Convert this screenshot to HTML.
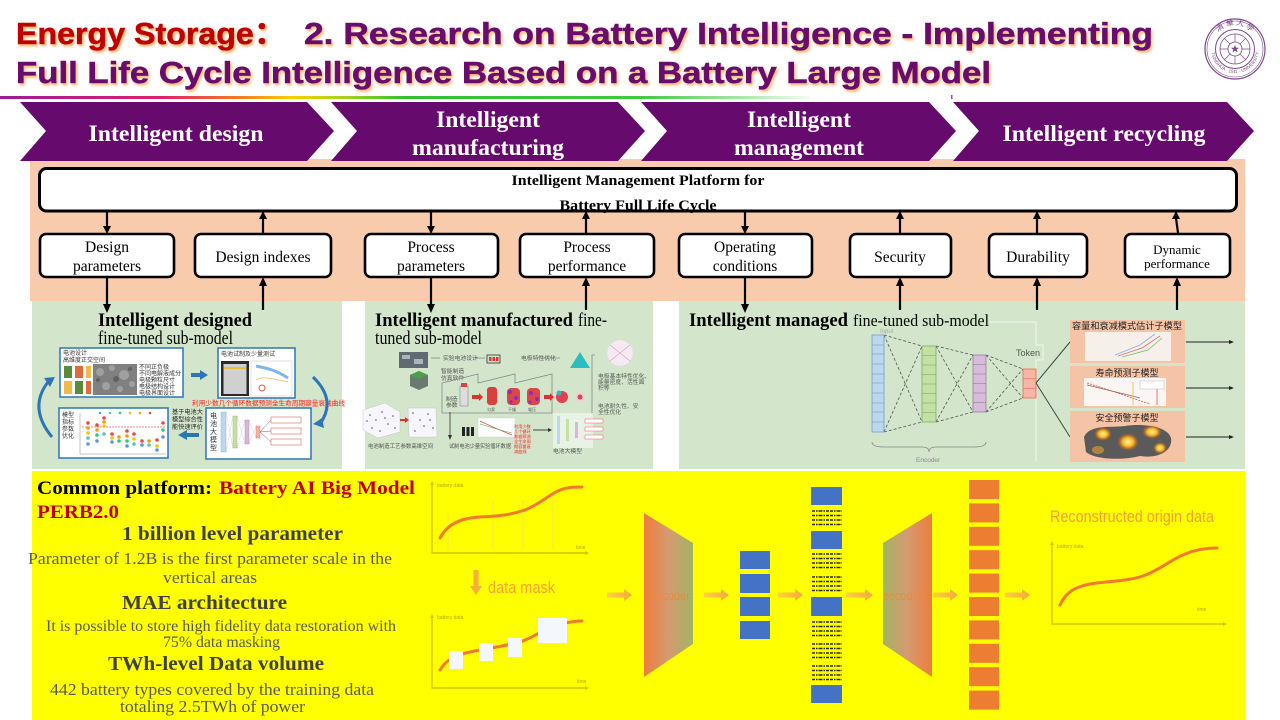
<!DOCTYPE html>
<html><head><meta charset="utf-8">
<style>
html,body{margin:0;padding:0;background:#fff;width:1280px;height:720px;overflow:hidden}
svg{display:block}
.se{font-family:"Liberation Serif","Noto Serif CJK SC",serif}
.sa{font-family:"Liberation Sans","Noto Sans CJK SC",sans-serif}
.cj{font-family:"Noto Sans CJK SC","WenQuanYi Zen Hei",sans-serif}
</style></head><body>
<svg width="1280" height="720" viewBox="0 0 1280 720" xmlns="http://www.w3.org/2000/svg">
<defs>
 <linearGradient id="rain" x1="0" x2="1" y1="0" y2="0">
  <stop offset="0" stop-color="#9b1b9b"/>
  <stop offset="0.2" stop-color="#e0206a"/>
  <stop offset="0.3" stop-color="#f58020"/>
  <stop offset="0.36" stop-color="#f5d000"/>
  <stop offset="0.43" stop-color="#a0d020"/>
  <stop offset="0.5" stop-color="#30c030"/>
  <stop offset="0.79" stop-color="#40c840"/>
  <stop offset="1" stop-color="#f0fbf0"/>
 </linearGradient>
 <linearGradient id="enc" x1="0" x2="1" y1="0" y2="0">
  <stop offset="0" stop-color="#ee7d3c"/>
  <stop offset="0.5" stop-color="#d59a70"/>
  <stop offset="1" stop-color="#a3b465"/>
 </linearGradient>
 <linearGradient id="dec" x1="0" x2="1" y1="0" y2="0">
  <stop offset="0" stop-color="#a3b465"/>
  <stop offset="0.5" stop-color="#d59a70"/>
  <stop offset="1" stop-color="#ee7d3c"/>
 </linearGradient>
 <linearGradient id="arw" x1="0" x2="1" y1="0" y2="0">
  <stop offset="0" stop-color="#fbd43a"/>
  <stop offset="1" stop-color="#f5a83c"/>
 </linearGradient>
 <radialGradient id="fire" cx="0.5" cy="0.5" r="0.5">
  <stop offset="0" stop-color="#fff6a0"/>
  <stop offset="0.5" stop-color="#f7b520"/>
  <stop offset="1" stop-color="#e05010" stop-opacity="0"/>
 </radialGradient>
 <filter id="ts" x="-5%" y="-20%" width="110%" height="150%">
  <feDropShadow dx="1.5" dy="2" stdDeviation="1.2" flood-color="#f59a3a" flood-opacity="0.75"/>
 </filter>
 <path id="lgTop" d="M-24,0 A24,24 0 0,1 24,0"/>
 <path id="lgBot" d="M-24,0 A24,24 0 0,0 24,0"/>
</defs>

<!-- ===== Title ===== -->
<g class="sa" font-weight="bold" font-size="31" filter="url(#ts)" stroke-width="0.6">
 <text x="16" y="44" fill="#C00000" stroke="#C00000" textLength="270" lengthAdjust="spacingAndGlyphs">Energy Storage：</text>
 <text x="304" y="44" fill="#680c6c" stroke="#680c6c" textLength="849" lengthAdjust="spacingAndGlyphs">2. Research on Battery Intelligence - Implementing</text>
 <text x="16" y="83" fill="#680c6c" stroke="#680c6c" textLength="975" lengthAdjust="spacingAndGlyphs">Full Life Cycle Intelligence Based on a Battery Large Model</text>
</g>
<rect x="0" y="96" width="810" height="3" fill="url(#rain)"/>
<rect x="951" y="95" width="1.5" height="4" fill="#b040b0"/>

<!-- Logo -->
<g transform="translate(1235,49)" fill="none" stroke="#7b4b8b">
 <circle r="30" fill="#fff" stroke-width="1.2"/>
 <circle r="28" stroke-width="0.6"/>
 <circle r="19.5" stroke-width="1"/>
 <circle r="15" stroke-width="0.8"/>
 <circle r="7" stroke-width="0.8"/>
 <path d="M0,-4 L1.2,-1.2 L4,-1.2 L1.8,0.6 L2.6,3.4 L0,1.8 L-2.6,3.4 L-1.8,0.6 L-4,-1.2 L-1.2,-1.2 Z" fill="#7b4b8b" stroke="none"/>
 <path d="M-15,0 H-7 M7,0 H15 M0,-15 V-7 M0,7 V15 M-10.6,-10.6 L-5,-5 M10.6,-10.6 L5,-5 M-10.6,10.6 L-5,5 M10.6,10.6 L5,5" stroke-width="0.7"/>
 <text class="cj" font-size="8" fill="#7b4b8b" stroke="none" text-anchor="middle"><textPath href="#lgTop" startOffset="50%">清 華 大 學</textPath></text>
 <text class="sa" font-size="4.5" fill="#7b4b8b" stroke="none" text-anchor="middle"><textPath href="#lgBot" startOffset="50%">TSINGHUA · 1911 · UNIVERSITY</textPath></text>
</g>

<!-- ===== Background regions ===== -->
<rect x="30" y="159" width="1215" height="142" fill="#F8CBAD"/>
<rect x="32" y="301" width="310" height="168" fill="#D3E6CB"/>
<rect x="365" y="301" width="288" height="168" fill="#D3E6CB"/>
<rect x="679" y="301" width="566" height="168" fill="#D3E6CB"/>
<rect x="32" y="471" width="1213" height="249" fill="#FFFF00"/>

<!-- ===== Chevrons ===== -->
<g fill="#660a6e">
 <polygon points="20,102 307,102 334,131 307,161 20,161 46,131"/>
 <polygon points="331,102 618,102 645,131 618,161 331,161 357,131"/>
 <polygon points="641,102 929,102 956,131 929,161 641,161 667,131"/>
 <polygon points="953,102 1227,102 1254,131 1227,161 953,161 979,131"/>
</g>
<g class="se" font-weight="bold" font-size="23" fill="#fff" text-anchor="middle">
 <text x="176" y="141" textLength="175" lengthAdjust="spacingAndGlyphs">Intelligent design</text>
 <text x="488" y="127" textLength="104" lengthAdjust="spacingAndGlyphs">Intelligent</text>
 <text x="488" y="155" textLength="152" lengthAdjust="spacingAndGlyphs">manufacturing</text>
 <text x="799" y="127" textLength="104" lengthAdjust="spacingAndGlyphs">Intelligent</text>
 <text x="799" y="155" textLength="130" lengthAdjust="spacingAndGlyphs">management</text>
 <text x="1104" y="141" textLength="203" lengthAdjust="spacingAndGlyphs">Intelligent recycling</text>
</g>

<!-- ===== Platform ===== -->
<rect x="39.5" y="168.5" width="1197" height="42.5" rx="7" fill="#fff" stroke="#000" stroke-width="3"/>
<g class="se" font-weight="bold" font-size="14.5" fill="#000" text-anchor="middle">
 <text x="638" y="185" textLength="253" lengthAdjust="spacingAndGlyphs">Intelligent Management Platform for</text>
 <text x="638" y="210" textLength="157" lengthAdjust="spacingAndGlyphs">Battery Full Life Cycle</text>
</g>

<!-- Boxes -->
<g fill="#fff" stroke="#000" stroke-width="2.6">
 <rect x="40" y="234" width="134" height="43" rx="6"/>
 <rect x="195" y="234" width="136" height="43" rx="6"/>
 <rect x="365" y="234" width="133" height="43" rx="6"/>
 <rect x="520" y="234" width="134" height="43" rx="6"/>
 <rect x="679" y="234" width="133" height="43" rx="6"/>
 <rect x="850" y="234" width="101" height="43" rx="6"/>
 <rect x="989" y="234" width="98" height="43" rx="6"/>
 <rect x="1125" y="234" width="105" height="43" rx="6"/>
</g>
<g class="se" font-size="15.5" fill="#000" text-anchor="middle">
 <text x="107" y="252">Design</text>
 <text x="107" y="271">parameters</text>
 <text x="263" y="262">Design indexes</text>
 <text x="431" y="252">Process</text>
 <text x="431" y="271">parameters</text>
 <text x="587" y="252">Process</text>
 <text x="587" y="271">performance</text>
 <text x="745" y="252">Operating</text>
 <text x="745" y="271">conditions</text>
 <text x="900" y="262">Security</text>
 <text x="1038" y="262">Durability</text>
 <text x="1177" y="254" font-size="13">Dynamic</text>
 <text x="1177" y="268" font-size="13">performance</text>
</g>

<!-- Arrows platform <-> boxes -->
<g stroke="#000" stroke-width="2.2">
 <line x1="107" y1="212" x2="107" y2="228"/>
 <line x1="263" y1="233" x2="263" y2="218"/>
 <line x1="431" y1="212" x2="431" y2="228"/>
 <line x1="586" y1="233" x2="586" y2="218"/>
 <line x1="745" y1="212" x2="745" y2="228"/>
 <line x1="900" y1="233" x2="900" y2="218"/>
 <line x1="1037" y1="233" x2="1037" y2="218"/>
 <line x1="1178" y1="233" x2="1176" y2="218"/>
 <line x1="107" y1="278" x2="107" y2="306"/>
 <line x1="263" y1="310" x2="263" y2="284"/>
 <line x1="431" y1="278" x2="431" y2="306"/>
 <line x1="586" y1="310" x2="586" y2="284"/>
 <line x1="745" y1="278" x2="745" y2="306"/>
 <line x1="900" y1="310" x2="900" y2="284"/>
 <line x1="1037" y1="310" x2="1037" y2="284"/>
 <line x1="1177" y1="310" x2="1177" y2="284"/>
</g>
<g fill="#000">
 <polygon points="103,226 111,226 107,234"/>
 <polygon points="259,219 267,219 263,211"/>
 <polygon points="427,226 435,226 431,234"/>
 <polygon points="582,219 590,219 586,211"/>
 <polygon points="741,226 749,226 745,234"/>
 <polygon points="896,219 904,219 900,211"/>
 <polygon points="1033,219 1041,219 1037,211"/>
 <polygon points="1172,219 1180,219 1176,211"/>
 <polygon points="103,304 111,304 107,313"/>
 <polygon points="259,286 267,286 263,277"/>
 <polygon points="427,304 435,304 431,313"/>
 <polygon points="582,286 590,286 586,277"/>
 <polygon points="741,304 749,304 745,313"/>
 <polygon points="896,286 904,286 900,277"/>
 <polygon points="1033,286 1041,286 1037,277"/>
 <polygon points="1173,286 1181,286 1177,277"/>
</g>

<!-- ===== Panel 1 ===== -->
<g class="se" font-size="18.5" fill="#000">
 <text x="98" y="326" font-weight="bold" textLength="154" lengthAdjust="spacingAndGlyphs">Intelligent designed</text>
 <text x="98" y="344" textLength="135" lengthAdjust="spacingAndGlyphs">fine-tuned sub-model</text>
</g>
<rect x="60" y="348" width="123" height="49" fill="#fff" stroke="#2e75b6" stroke-width="1.5"/>
<g class="cj" font-size="6" fill="#333">
 <text x="63" y="355">电池设计</text>
 <text x="63" y="362">高维度正交空间</text>
 <text x="139" y="369">不同正负极</text>
 <text x="139" y="375.5">不同电解液成分</text>
 <text x="139" y="382">电极颗粒尺寸</text>
 <text x="139" y="388.5">电极结构设计</text>
 <text x="139" y="395">电极界面设计</text>
</g>
<rect x="64" y="366" width="8" height="12" fill="#5a8a3a"/>
<rect x="75" y="366" width="8" height="12" fill="#e06a3a"/>
<rect x="86" y="366" width="5" height="12" fill="#f2b84a"/>
<rect x="64" y="381" width="8" height="13" fill="#f2b84a"/>
<rect x="75" y="381" width="8" height="13" fill="#5a8a3a"/>
<rect x="86" y="381" width="5" height="13" fill="#e06a3a"/>
<rect x="93" y="364" width="44" height="31" fill="#808080"/>
<g fill="#a8a8a8" opacity="0.8">
 <circle cx="100" cy="372" r="4"/><circle cx="112" cy="368" r="3"/><circle cx="124" cy="375" r="5"/><circle cx="106" cy="386" r="4"/><circle cx="120" cy="389" r="3"/><circle cx="132" cy="384" r="3"/>
</g>
<g fill="#555" opacity="0.7">
 <circle cx="116" cy="379" r="3"/><circle cx="98" cy="380" r="2"/><circle cx="130" cy="369" r="2"/>
</g>
<rect x="218" y="348" width="77" height="50" fill="#fff" stroke="#2e75b6" stroke-width="1.5"/>
<text class="cj" x="221" y="356" font-size="6" fill="#333">电池试制及少量测试</text>
<rect x="221" y="361" width="28" height="35" fill="#2a2a2a"/>
<rect x="223.5" y="364" width="23" height="30" fill="#d0d0d0"/>
<rect x="223.5" y="367" width="23" height="2" fill="#e8c040"/>
<rect x="251" y="361" width="41" height="35" fill="#fff" stroke="#ccc" stroke-width="0.6"/>
<path d="M256,366 C266,368 276,370 288,378" stroke="#7fb6e6" stroke-width="3" fill="none"/>
<path d="M256,380 C262,376 270,378 288,382" stroke="#f0c060" stroke-width="0.8" fill="none"/>
<circle cx="262" cy="388" r="3" fill="none" stroke="#e05050" stroke-width="1"/>
<text class="cj" x="192" y="405.5" font-size="6.8" fill="#ff2020" textLength="153" lengthAdjust="spacingAndGlyphs">利用少数几个循环数据预测全生命周期容量衰减曲线</text>
<rect x="59" y="408" width="109" height="50" fill="#fff" stroke="#2e75b6" stroke-width="1.5"/>
<g class="cj" font-size="6" fill="#333">
 <text x="62" y="417">模型</text><text x="62" y="424">指标</text><text x="62" y="431">参数</text><text x="62" y="438">优化</text>
</g>
<line x1="80" y1="413" x2="80" y2="454" stroke="#888" stroke-width="0.5"/>
<line x1="80" y1="454" x2="166" y2="454" stroke="#888" stroke-width="0.5"/>
<line x1="82" y1="427" x2="166" y2="427" stroke="#f08080" stroke-width="0.9" stroke-dasharray="2 1"/>
<g>
 <circle cx="100" cy="413" r="1.3" fill="#5b9bd5"/><circle cx="110" cy="413" r="1.3" fill="#5dc0c0"/><circle cx="120" cy="413" r="1.3" fill="#2ecc71"/><circle cx="130" cy="413" r="1.3" fill="#f1c40f"/><circle cx="140" cy="413" r="1.3" fill="#f39c12"/><circle cx="150" cy="413" r="1.3" fill="#e74c3c"/>
 <circle cx="88" cy="423" r="1.8" fill="#e74c3c"/><circle cx="88" cy="428" r="1.8" fill="#f39c12"/><circle cx="88" cy="433" r="1.8" fill="#f1c40f"/><circle cx="88" cy="438" r="1.8" fill="#5dc0c0"/><circle cx="88" cy="444" r="1.8" fill="#5b9bd5"/>
 <circle cx="97" cy="425" r="1.8" fill="#e74c3c"/><circle cx="97" cy="430" r="1.8" fill="#f39c12"/><circle cx="97" cy="435" r="1.8" fill="#2ecc71"/><circle cx="97" cy="441" r="1.8" fill="#5b9bd5"/>
 <circle cx="104" cy="418" r="1.8" fill="#e74c3c"/><circle cx="104" cy="422" r="1.8" fill="#f39c12"/><circle cx="104" cy="426" r="1.8" fill="#f1c40f"/><circle cx="104" cy="434" r="1.8" fill="#5dc0c0"/>
 <circle cx="112" cy="434" r="1.8" fill="#e74c3c"/><circle cx="112" cy="438" r="1.8" fill="#f1c40f"/><circle cx="112" cy="442" r="1.8" fill="#5b9bd5"/>
 <circle cx="119" cy="437" r="1.8" fill="#f39c12"/><circle cx="119" cy="441" r="1.8" fill="#2ecc71"/>
 <circle cx="127" cy="431" r="1.8" fill="#e74c3c"/><circle cx="127" cy="436" r="1.8" fill="#f39c12"/><circle cx="127" cy="441" r="1.8" fill="#2ecc71"/><circle cx="127" cy="446" r="1.8" fill="#5b9bd5"/>
 <circle cx="134" cy="434" r="1.8" fill="#e74c3c"/><circle cx="134" cy="439" r="1.8" fill="#f1c40f"/><circle cx="134" cy="444" r="1.8" fill="#5dc0c0"/>
 <circle cx="142" cy="441" r="1.8" fill="#e74c3c"/><circle cx="142" cy="445" r="1.8" fill="#5b9bd5"/>
 <circle cx="149" cy="441" r="1.8" fill="#f39c12"/><circle cx="149" cy="445" r="1.8" fill="#5dc0c0"/>
 <circle cx="157" cy="440" r="1.8" fill="#e74c3c"/><circle cx="157" cy="446" r="1.8" fill="#f1c40f"/><circle cx="157" cy="450" r="1.8" fill="#5b9bd5"/>
 <circle cx="163" cy="423" r="1.8" fill="#e74c3c"/><circle cx="163" cy="430" r="1.8" fill="#2ecc71"/><circle cx="163" cy="437" r="1.8" fill="#5b9bd5"/>
</g>
<g class="cj" font-size="6.2" fill="#222">
 <text x="172" y="414">基于电池大</text><text x="172" y="421.5">模型综合性</text><text x="172" y="429">能快速评价</text>
</g>
<polygon points="191,373 200,373 200,370 208,375 200,380 200,377 191,377" fill="#2e75b6"/>
<polygon points="199,433 187,433 187,430 178,435 187,440 187,437 199,437" fill="#2e75b6"/>
<path d="M52,437 Q28,408 48,382" stroke="#2e75b6" stroke-width="3" fill="none"/>
<polygon points="44,378 55,377 50,387" fill="#2e75b6"/>
<path d="M313,377 Q337,400 320,424" stroke="#2e75b6" stroke-width="3" fill="none"/>
<polygon points="313,424 324,428 322,418" fill="#2e75b6"/>
<rect x="206" y="408" width="105" height="51" fill="#fff" stroke="#2e75b6" stroke-width="1.5"/>
<g class="cj" font-size="7" fill="#333">
 <text x="210" y="418">电</text><text x="210" y="426">池</text><text x="210" y="434">大</text><text x="210" y="442">模</text><text x="210" y="450">型</text>
</g>
<rect x="221" y="412" width="5" height="40" fill="#bdd7ee" stroke="#7fa8d0" stroke-width="0.4"/>
<rect x="233" y="416" width="4" height="32" fill="#c5e0a5" stroke="#8ab060" stroke-width="0.4"/>
<rect x="245" y="420" width="4" height="24" fill="#d5b8d8" stroke="#a080a8" stroke-width="0.4"/>
<rect x="256" y="426" width="4" height="12" fill="#f8b0a0" stroke="#e07070" stroke-width="0.4"/>
<g stroke="#999" stroke-width="0.4" stroke-dasharray="1 1">
 <line x1="226" y1="412" x2="233" y2="448"/><line x1="226" y1="452" x2="233" y2="416"/>
 <line x1="237" y1="416" x2="245" y2="444"/><line x1="237" y1="448" x2="245" y2="420"/>
 <line x1="249" y1="420" x2="256" y2="438"/><line x1="249" y1="444" x2="256" y2="426"/>
</g>
<g stroke="#666" stroke-width="0.5"><line x1="260" y1="432" x2="271" y2="420"/><line x1="260" y1="432" x2="271" y2="431"/><line x1="260" y1="432" x2="271" y2="442"/></g>
<g fill="#fff" stroke="#e06060" stroke-width="0.6">
 <rect x="271" y="417" width="30" height="6"/><rect x="271" y="428" width="30" height="6"/><rect x="271" y="439" width="30" height="6"/>
</g>

<!-- ===== Panel 2 ===== -->
<g class="se" font-size="18.5" fill="#000">
 <text x="375" y="326" font-weight="bold" textLength="198" lengthAdjust="spacingAndGlyphs">Intelligent manufactured</text>
 <text x="578" y="326" textLength="29" lengthAdjust="spacingAndGlyphs">fine-</text>
 <text x="375" y="344" textLength="107" lengthAdjust="spacingAndGlyphs">tuned sub-model</text>
</g>
<rect x="399" y="352" width="29" height="16" fill="#5f6a72"/>
<rect x="402" y="355" width="8" height="4" fill="#aab4bb"/><rect x="414" y="359" width="9" height="5" fill="#aab4bb"/>
<g stroke="#888" stroke-width="0.8" fill="none"><line x1="440" y1="358" x2="431" y2="358"/><line x1="485" y1="358" x2="475" y2="358"/><line x1="560" y1="358" x2="540" y2="358"/><path d="M592,414 V355 H595"/></g>
<g class="cj" font-size="5.8" fill="#555">
 <text x="443" y="360">实验电池设计</text>
 <text x="521" y="360">电极特性优化</text>
 <text x="441" y="373">智能制造</text><text x="441" y="380">仿真软件</text>
 <text x="598" y="378">电极基本特性优化、</text><text x="598" y="384">能量密度、活性面</text><text x="598" y="390">积等</text>
 <text x="598" y="408">电池耐久性、安</text><text x="598" y="414">全性优化</text>
 <text x="446" y="401">制造</text><text x="446" y="407">参数</text>
 <text x="487" y="411" font-size="4">匀浆</text><text x="508" y="411" font-size="4">干燥</text><text x="528" y="411" font-size="4">辊压</text>
 <text x="368" y="448" textLength="65" lengthAdjust="spacingAndGlyphs">电池制造工艺参数高维空间</text>
 <text x="449" y="448" textLength="62" lengthAdjust="spacingAndGlyphs">试制电池少量实验循环数据</text>
 <text x="553" y="453">电池大模型</text>
</g>
<rect x="487" y="355" width="13" height="8" fill="none" stroke="#333" stroke-width="0.8"/>
<rect x="489" y="357" width="2.5" height="4" fill="#e03030"/><rect x="492.5" y="357" width="2.5" height="4" fill="#e03030"/><rect x="496" y="357" width="2.5" height="4" fill="#e03030"/>
<polygon points="570,368 580,352 590,368" fill="#2bbdc0"/>
<circle cx="620" cy="353" r="13" fill="#f6eaf2" stroke="#ddd" stroke-width="0.6"/>
<path d="M610,345 L630,361 M630,345 L610,361" stroke="#d8a0c0" stroke-width="0.6"/>
<polygon points="419,371 428,375 428,386 419,390 410,386 410,375" fill="#6a7a70"/>
<polygon points="419,371 428,375 419,379 410,375" fill="#4aa04a"/>
<path d="M442,413 V383 L478,374 V383 L515,374 V383 L552,374 V413 Z" fill="none" stroke="#888" stroke-width="0.8"/>
<rect x="460" y="386" width="8" height="20" fill="#ddd" stroke="#777" stroke-width="0.5"/>
<rect x="461" y="383" width="6" height="4" fill="#e04040"/>
<polygon points="472,395 479,395 479,393 483,397 479,401 479,399 472,399" fill="#e03030"/>
<rect x="487" y="387" width="10" height="18" rx="3" fill="#d94040"/>
<rect x="507" y="388" width="13" height="17" rx="4" fill="#d94848"/>
<rect x="527" y="388" width="13" height="17" rx="4" fill="#d94848"/>
<g fill="#a020c0"><circle cx="510" cy="392" r="2"/><circle cx="516" cy="398" r="2"/><circle cx="511" cy="402" r="1.6"/><circle cx="531" cy="393" r="2"/><circle cx="537" cy="399" r="2"/><circle cx="530" cy="402" r="1.5"/></g>
<polygon points="544,395 550,395 550,393 554,397 550,401 550,399 544,399" fill="#e03030"/>
<circle cx="562" cy="397" r="6" fill="#e04050"/><circle cx="559" cy="393" r="2.5" fill="#40b0c0"/>
<circle cx="580" cy="397" r="5" fill="#f0d0d8"/><circle cx="580" cy="397" r="2.5" fill="#e04050"/>
<g stroke="#bbb" stroke-width="0.4" fill="#f7f7fb">
 <polygon points="363,410 385,403 400,412 400,432 378,438 363,430"/>
 <polygon points="408,408 436,408 437,437 409,437"/>
</g>
<g fill="#4050a0">
 <circle cx="370" cy="415" r="0.8"/><circle cx="376" cy="420" r="0.8"/><circle cx="382" cy="412" r="0.8"/><circle cx="388" cy="424" r="0.8"/><circle cx="372" cy="428" r="0.8"/><circle cx="393" cy="416" r="0.8"/><circle cx="380" cy="431" r="0.8"/><circle cx="385" cy="418" r="0.8"/><circle cx="367" cy="421" r="0.8"/><circle cx="395" cy="428" r="0.8"/>
 <circle cx="413" cy="413" r="0.8"/><circle cx="420" cy="420" r="0.8"/><circle cx="428" cy="414" r="0.8"/><circle cx="433" cy="428" r="0.8"/><circle cx="415" cy="431" r="0.8"/><circle cx="424" cy="426" r="0.8"/><circle cx="430" cy="420" r="0.8"/>
</g>
<polygon points="400,419 405,419 405,417 409,420 405,423 405,421 400,421" fill="#e03030"/>
<line x1="450" y1="412" x2="450" y2="436" stroke="#333" stroke-width="0.8"/>
<polygon points="448,435 452,435 450,440" fill="#333"/>
<g fill="#222"><rect x="462" y="427" width="3" height="9"/><rect x="466.5" y="427" width="3" height="9"/><rect x="471" y="427" width="3" height="9"/></g>
<rect x="478" y="418" width="37" height="19" fill="#fff" stroke="#ccc" stroke-width="0.4"/>
<path d="M480,421 L495,428 L512,435" stroke="#e05050" stroke-width="0.8" fill="none"/>
<path d="M480,424 L500,430 L512,433" stroke="#60a060" stroke-width="0.6" fill="none"/>
<g class="cj" font-size="4.2" fill="#ff2020">
 <text x="514" y="428">利用少数</text><text x="514" y="433">几个循环</text><text x="514" y="438">数据预测</text><text x="514" y="443">全生命周</text><text x="514" y="448">期容量衰</text><text x="514" y="453">减曲线</text>
</g>
<line x1="533" y1="430" x2="549" y2="430" stroke="#333" stroke-width="0.9"/>
<polygon points="548,428 552,430 548,432" fill="#333"/>
<rect x="553" y="413" width="40" height="35" fill="#fff" opacity="0.5"/>
<rect x="557" y="416" width="3" height="28" fill="#bdd7ee"/><rect x="566" y="419" width="3" height="22" fill="#c5e0a5"/><rect x="575" y="422" width="3" height="16" fill="#d5b8d8"/>
<g fill="#fff" stroke="#e06060" stroke-width="0.5"><rect x="585" y="419" width="18" height="4"/><rect x="585" y="427" width="18" height="4"/><rect x="585" y="435" width="18" height="4"/></g>

<!-- ===== Panel 3 ===== -->
<g class="se" font-size="18.5" fill="#000">
 <text x="689" y="326" font-weight="bold" textLength="159" lengthAdjust="spacingAndGlyphs">Intelligent managed</text>
 <text x="853" y="326" font-size="17" textLength="136" lengthAdjust="spacingAndGlyphs">fine-tuned sub-model</text>
</g>
<text class="sa" x="880" y="333" font-size="6" fill="#aaa">Input</text>
<g stroke="#f2f4f0" stroke-width="1" fill="none"><path d="M990,322 H1036 V345 H1043 V360 H1036 V462"/></g>
<g stroke="#555" stroke-width="0.8" stroke-dasharray="3 2">
 <line x1="884" y1="335" x2="922" y2="346"/><line x1="884" y1="335" x2="922" y2="422"/><line x1="884" y1="432" x2="922" y2="422"/><line x1="884" y1="432" x2="922" y2="346"/>
 <line x1="936" y1="346" x2="973" y2="355"/><line x1="936" y1="346" x2="973" y2="412"/><line x1="936" y1="422" x2="973" y2="412"/><line x1="936" y1="422" x2="973" y2="355"/>
 <line x1="986" y1="355" x2="1023" y2="369"/><line x1="986" y1="355" x2="1023" y2="398"/><line x1="986" y1="412" x2="1023" y2="398"/><line x1="986" y1="412" x2="1023" y2="369"/>
</g>
<rect x="872" y="335" width="12" height="97" fill="#bdd7ee" stroke="#6fa0d0" stroke-width="0.8"/>
<g stroke="#6fa0d0" stroke-width="0.6"><line x1="872" y1="345" x2="884" y2="345"/><line x1="872" y1="354" x2="884" y2="354"/><line x1="872" y1="364" x2="884" y2="364"/><line x1="872" y1="374" x2="884" y2="374"/><line x1="872" y1="383" x2="884" y2="383"/><line x1="872" y1="393" x2="884" y2="393"/><line x1="872" y1="403" x2="884" y2="403"/><line x1="872" y1="412" x2="884" y2="412"/><line x1="872" y1="422" x2="884" y2="422"/></g>
<rect x="922" y="346" width="14" height="76" fill="#c5e0a5" stroke="#7fae5a" stroke-width="0.8"/>
<g stroke="#7fae5a" stroke-width="0.6"><line x1="922" y1="355.5" x2="936" y2="355.5"/><line x1="922" y1="365" x2="936" y2="365"/><line x1="922" y1="374.5" x2="936" y2="374.5"/><line x1="922" y1="384" x2="936" y2="384"/><line x1="922" y1="393.5" x2="936" y2="393.5"/><line x1="922" y1="403" x2="936" y2="403"/><line x1="922" y1="412.5" x2="936" y2="412.5"/></g>
<rect x="973" y="355" width="13" height="57" fill="#d6bcd9" stroke="#9a7aa0" stroke-width="0.8"/>
<g stroke="#9a7aa0" stroke-width="0.6"><line x1="973" y1="364.5" x2="986" y2="364.5"/><line x1="973" y1="374" x2="986" y2="374"/><line x1="973" y1="383.5" x2="986" y2="383.5"/><line x1="973" y1="393" x2="986" y2="393"/><line x1="973" y1="402.5" x2="986" y2="402.5"/></g>
<rect x="1023" y="369" width="13" height="29" fill="#f8b4a4" stroke="#e07060" stroke-width="0.8"/>
<g stroke="#e07060" stroke-width="0.6"><line x1="1023" y1="378.7" x2="1036" y2="378.7"/><line x1="1023" y1="388.3" x2="1036" y2="388.3"/></g>
<text class="sa" x="1016" y="356" font-size="9" fill="#555">Token</text>
<path d="M872,442 Q872,447 884,447 L922,447 Q929,447 929,452 Q929,447 936,447 L974,447 Q986,447 986,442" stroke="#888" stroke-width="0.8" fill="none"/>
<text class="sa" x="916" y="462" font-size="6.5" fill="#888">Encoder</text>
<g stroke="#444" stroke-width="1"><line x1="1036" y1="383" x2="1070" y2="342"/><line x1="1036" y1="383" x2="1070" y2="437"/></g>
<g fill="#F5C3A5">
 <rect x="1070" y="320" width="115" height="43"/>
 <rect x="1070" y="366" width="115" height="42"/>
 <rect x="1070" y="411" width="115" height="51"/>
</g>
<g class="cj" font-size="9" fill="#222" text-anchor="middle">
 <text x="1127" y="329" textLength="110" lengthAdjust="spacingAndGlyphs">容量和衰减模式估计子模型</text>
 <text x="1127" y="376">寿命预测子模型</text>
 <text x="1127" y="421">安全预警子模型</text>
</g>
<rect x="1085" y="332" width="86" height="29" fill="#f7efea"/>
<g fill="none" stroke-width="0.8"><path d="M1115,355 L1140,345 L1155,334" stroke="#7fb0e0"/><path d="M1118,356 L1142,348 L1160,336" stroke="#e07070"/><path d="M1122,357 L1148,350 L1162,338" stroke="#70c070"/></g>
<rect x="1084" y="378" width="82" height="28" fill="#fbf6f4"/>
<g fill="none" stroke-width="0.8"><path d="M1087,383 L1115,392 L1135,399 L1150,404" stroke="#e05050" stroke-dasharray="2 1"/><path d="M1087,385 L1120,393 L1140,398" stroke="#a06040"/></g>
<line x1="1133" y1="382" x2="1133" y2="405" stroke="#e8c030" stroke-width="0.8"/>
<line x1="1157" y1="382" x2="1157" y2="405" stroke="#e05050" stroke-width="0.8"/>
<rect x="1140" y="381" width="24" height="8" fill="#fff" stroke="#aaa" stroke-width="0.4"/>
<path d="M1084,437 C1090,424 1110,428 1125,426 C1145,423 1168,427 1171,438 C1173,450 1160,459 1140,456 C1120,461 1094,459 1086,452 Z" fill="#5a5a5a"/>
<ellipse cx="1103" cy="434" rx="9" ry="7" fill="url(#fire)"/>
<ellipse cx="1128" cy="442" rx="11" ry="9" fill="url(#fire)"/>
<ellipse cx="1152" cy="432" rx="10" ry="7" fill="url(#fire)"/>
<ellipse cx="1160" cy="448" rx="7" ry="6" fill="url(#fire)"/>
<ellipse cx="1098" cy="450" rx="6" ry="4" fill="#e8a030" opacity="0.6"/>
<g stroke="#222" stroke-width="1"><line x1="1186" y1="342" x2="1230" y2="342"/><line x1="1186" y1="388" x2="1230" y2="388"/><line x1="1186" y1="437" x2="1230" y2="437"/></g>
<g fill="#222"><polygon points="1229,340 1234,342 1229,344"/><polygon points="1229,386 1234,388 1229,390"/><polygon points="1229,435 1234,437 1229,439"/></g>

<!-- ===== Bottom left text ===== -->
<g class="se" font-weight="bold" font-size="19">
 <text x="37" y="494" fill="#000" textLength="175" lengthAdjust="spacingAndGlyphs">Common platform:</text>
 <text x="219" y="494" fill="#C00000" textLength="196" lengthAdjust="spacingAndGlyphs">Battery AI Big Model</text>
 <text x="37" y="518" fill="#C00000" textLength="82" lengthAdjust="spacingAndGlyphs">PERB2.0</text>
</g>
<g class="se" font-weight="bold" font-size="20" fill="#404040">
 <text x="122" y="540" textLength="221" lengthAdjust="spacingAndGlyphs">1 billion level parameter</text>
 <text x="122" y="609" textLength="165" lengthAdjust="spacingAndGlyphs">MAE architecture</text>
 <text x="108" y="670" textLength="216" lengthAdjust="spacingAndGlyphs">TWh-level Data volume</text>
</g>
<g class="se" font-size="16.5" fill="#595959">
 <text x="28" y="564" textLength="364" lengthAdjust="spacingAndGlyphs">Parameter of 1.2B is the first parameter scale in the</text>
 <text x="163" y="583" textLength="94" lengthAdjust="spacingAndGlyphs">vertical areas</text>
 <text x="46" y="631" font-size="15.5" textLength="350" lengthAdjust="spacingAndGlyphs">It is possible to store high fidelity data restoration with</text>
 <text x="163" y="647" font-size="15.5" textLength="117" lengthAdjust="spacingAndGlyphs">75% data masking</text>
 <text x="50" y="695" textLength="324" lengthAdjust="spacingAndGlyphs">442 battery types covered by the training data</text>
 <text x="120" y="712" textLength="185" lengthAdjust="spacingAndGlyphs">totaling 2.5TWh of power</text>
</g>

<!-- ===== MAE diagram ===== -->
<g stroke="#f2e060" stroke-width="0.8"><line x1="448" y1="515" x2="448" y2="550"/><line x1="493" y1="500" x2="493" y2="550"/><line x1="523" y1="500" x2="523" y2="550"/><line x1="553" y1="495" x2="553" y2="550"/></g>
<g stroke="#d4c400" stroke-width="1.4" fill="none">
 <path d="M432,484 V553 H586"/>
 <path d="M432,617 V688 H586"/>
 <path d="M1052,544 V624 H1224"/>
</g>
<g fill="#d4c400">
 <polygon points="430,485 434,485 432,481"/><polygon points="585,551 585,555 589,553"/>
 <polygon points="430,618 434,618 432,614"/><polygon points="585,686 585,690 589,688"/>
 <polygon points="1050,545 1054,545 1052,541"/><polygon points="1223,622 1223,626 1227,624"/>
</g>
<g class="sa" font-size="5" fill="#b8a800">
 <text x="437" y="487">battery data</text><text x="576" y="549">time</text>
 <text x="437" y="619">battery data</text><text x="577" y="683">time</text>
 <text x="1057" y="548">battery data</text><text x="1197" y="611">time</text>
</g>
<g stroke="#f07a28" stroke-width="3" fill="none" stroke-linecap="round">
 <path d="M440,538 C448,523 462,518 480,517 C500,516 510,515 525,510 C540,504 550,494 560,490 C568,487 575,487 582,487"/>
 <path d="M440,670 C446,660 455,655 470,652 C490,648 505,646 520,642 C535,637 545,628 560,624 C570,622 576,621 582,621"/>
 <path d="M1060,605 C1066,592 1075,587 1090,584 C1105,581 1125,582 1143,576 C1160,570 1170,560 1185,554 C1197,549 1208,548 1217,548"/>
</g>
<g fill="#f4f8fc">
 <rect x="449" y="651" width="14" height="18"/>
 <rect x="479" y="643" width="14" height="18"/>
 <rect x="508" y="638" width="14" height="19"/>
 <rect x="538" y="618" width="29" height="25"/>
</g>
<polygon points="473.5,570 478.5,570 478.5,586 482,586 476,595 470,586 473.5,586" fill="#f5b03a"/>
<text class="sa" x="488" y="593" font-size="16.5" fill="#f2a23a" textLength="67" lengthAdjust="spacingAndGlyphs">data mask</text>
<g fill="url(#arw)">
 <polygon points="607,592.5 624,592.5 624,589 632,595 624,601 624,597.5 607,597.5"/>
 <polygon points="704,592.5 721,592.5 721,589 729,595 721,601 721,597.5 704,597.5"/>
 <polygon points="778,592.5 795,592.5 795,589 803,595 795,601 795,597.5 778,597.5"/>
 <polygon points="846,592.5 865,592.5 865,589 873,595 865,601 865,597.5 846,597.5"/>
 <polygon points="933,592.5 950,592.5 950,589 958,595 950,601 950,597.5 933,597.5"/>
 <polygon points="1005,592.5 1022,592.5 1022,589 1030,595 1022,601 1022,597.5 1005,597.5"/>
</g>
<polygon points="644,513 693,543 693,644 644,677" fill="url(#enc)"/>
<text class="sa" x="650" y="600" font-size="13" fill="#ea8a3c" textLength="40" lengthAdjust="spacingAndGlyphs">encoder</text>
<polygon points="883,543 932,513 932,677 883,644" fill="url(#dec)"/>
<text class="sa" x="883" y="600" font-size="13" fill="#ea8a3c" textLength="39" lengthAdjust="spacingAndGlyphs">decoder</text>
<g fill="#4472C4">
 <rect x="740" y="551" width="30" height="18"/>
 <rect x="740" y="574" width="30" height="19"/>
 <rect x="740" y="597" width="30" height="19"/>
 <rect x="740" y="621" width="30" height="18"/>
 <rect x="811" y="487" width="31" height="18"/>
 <rect x="811" y="531" width="31" height="18"/>
 <rect x="811" y="597" width="31" height="19"/>
 <rect x="811" y="685" width="31" height="18"/>
</g>
<g stroke="#2a2a10" stroke-width="1.4" stroke-dasharray="3 1 1.5 1 4 1 1.5 1 3 1">
 <line x1="812" x2="842" y1="511" y2="511"/><line x1="812" x2="842" y1="515.5" y2="515.5"/><line x1="812" x2="842" y1="520" y2="520"/><line x1="812" x2="842" y1="524.5" y2="524.5"/>
 <line x1="812" x2="842" y1="554" y2="554"/><line x1="812" x2="842" y1="558.5" y2="558.5"/><line x1="812" x2="842" y1="563" y2="563"/><line x1="812" x2="842" y1="567.5" y2="567.5"/>
 <line x1="812" x2="842" y1="577" y2="577"/><line x1="812" x2="842" y1="581.5" y2="581.5"/><line x1="812" x2="842" y1="586" y2="586"/><line x1="812" x2="842" y1="590.5" y2="590.5"/>
 <line x1="812" x2="842" y1="622" y2="622"/><line x1="812" x2="842" y1="626.5" y2="626.5"/><line x1="812" x2="842" y1="631" y2="631"/><line x1="812" x2="842" y1="635.5" y2="635.5"/>
 <line x1="812" x2="842" y1="644" y2="644"/><line x1="812" x2="842" y1="648.5" y2="648.5"/><line x1="812" x2="842" y1="653" y2="653"/><line x1="812" x2="842" y1="657.5" y2="657.5"/>
 <line x1="812" x2="842" y1="666" y2="666"/><line x1="812" x2="842" y1="670.5" y2="670.5"/><line x1="812" x2="842" y1="675" y2="675"/><line x1="812" x2="842" y1="679.5" y2="679.5"/>
</g>
<g fill="#ED7D31">
 <rect x="969" y="480" width="30" height="19"/>
 <rect x="969" y="503.4" width="30" height="19"/>
 <rect x="969" y="526.8" width="30" height="19"/>
 <rect x="969" y="550.2" width="30" height="19"/>
 <rect x="969" y="573.6" width="30" height="19"/>
 <rect x="969" y="597" width="30" height="19"/>
 <rect x="969" y="620.4" width="30" height="19"/>
 <rect x="969" y="643.8" width="30" height="19"/>
 <rect x="969" y="667.2" width="30" height="19"/>
 <rect x="969" y="690.6" width="30" height="19"/>
</g>
<text class="sa" x="1050" y="522" font-size="17" fill="#f0a03a" textLength="164" lengthAdjust="spacingAndGlyphs">Reconstructed origin data</text>
</svg>
</body></html>
